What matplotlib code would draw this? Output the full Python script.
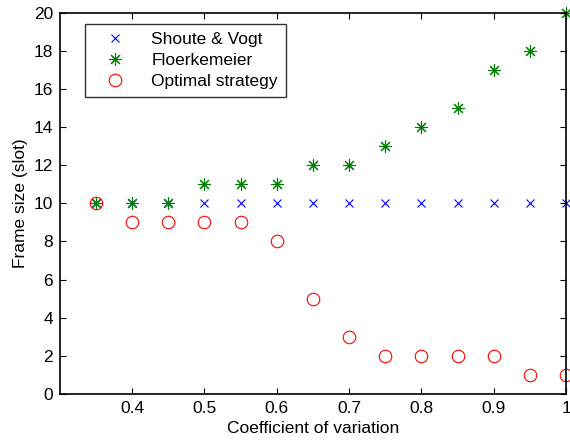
import matplotlib
matplotlib.use('Agg')
import matplotlib.pyplot as plt

plt.rcParams['font.family'] = ['Liberation Sans', 'DejaVu Sans']

cv = [0.35, 0.4, 0.45, 0.5, 0.55, 0.6, 0.65, 0.7, 0.75, 0.8, 0.85, 0.9, 0.95, 1.0]
shoute_vogt = [10, 10, 10, 10, 10, 10, 10, 10, 10, 10, 10, 10, 10, 10]
floerkemeier = [10, 10, 10, 11, 11, 11, 12, 12, 13, 14, 15, 17, 18, 20]
optimal = [10, 9, 9, 9, 9, 8, 5, 3, 2, 2, 2, 2, 1, 1]

fig = plt.figure(figsize=(5.7, 4.44), dpi=100)
ax = fig.add_axes([0.105, 0.113, 0.888, 0.858])

ax.plot(cv, shoute_vogt, linestyle='none', marker='x', color='blue', markersize=6, markeredgewidth=0.8, label='Shoute & Vogt', clip_on=False)
ax.plot(cv, floerkemeier, linestyle='none', marker=(8, 2, 0), color='green', markersize=9, markeredgewidth=0.8, label='Floerkemeier', clip_on=False)
ax.plot(cv, optimal, linestyle='none', marker='o', markerfacecolor='none', markeredgecolor='red', markersize=9, markeredgewidth=0.8, label='Optimal strategy', clip_on=False)

ax.set_xlim(0.3, 1.0)
ax.set_ylim(0, 20)
ax.set_xticks([0.4, 0.5, 0.6, 0.7, 0.8, 0.9, 1.0])
ax.set_xticklabels(['0.4', '0.5', '0.6', '0.7', '0.8', '0.9', '1'])
ax.set_yticks(range(0, 21, 2))
ax.tick_params(direction='in', top=True, right=True, labelsize=12.5, length=4)
ax.tick_params(axis='x', pad=5)
ax.tick_params(axis='y', pad=5)
for s in ax.spines.values():
    s.set_linewidth(1.2)

ax.set_xlabel('Coefficient of variation', fontsize=12.5, labelpad=4)
ax.set_ylabel('Frame size (slot)', fontsize=12.5, labelpad=4)

leg = ax.legend(loc='upper left', bbox_to_anchor=(0.049, 0.971), borderaxespad=0, fancybox=False, edgecolor='black',
                fontsize=12.5, handletextpad=0.8, borderpad=0.45, labelspacing=0.35, handlelength=2.6)
leg.get_frame().set_linewidth(1.0)

fig.savefig('out.png', dpi=100)
